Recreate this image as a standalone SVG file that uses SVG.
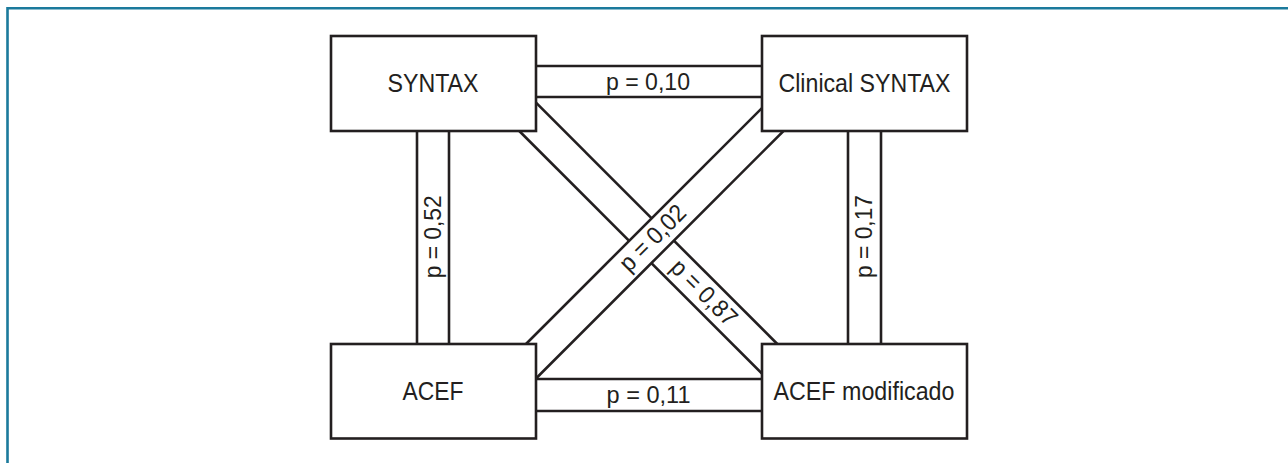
<svg xmlns="http://www.w3.org/2000/svg" width="1288" height="463" viewBox="0 0 1288 463">
  <style>
    .frame { stroke: #1b7a9c; stroke-width: 2.6; fill: none; }
    .box { fill: #ffffff; stroke: #231f20; stroke-width: 2.6; }
    .edge { stroke: #231f20; stroke-width: 2.6; fill: none; }
    .band { fill: #ffffff; stroke: none; }
    .lbl { font-family: "Liberation Sans", Arial, sans-serif; font-size: 26px; fill: #231f20; }
    .pl { font-family: "Liberation Sans", Arial, sans-serif; font-size: 24.5px; fill: #231f20; }
  </style>
  <rect x="0" y="0" width="1288" height="463" fill="#ffffff"/>
  <path class="frame" d="M7.5,463 V8.3 H1288"/>

  <g id="connectors">
    <!-- SYNTAX - Clinical SYNTAX -->
    <g id="e-syntax-clinical">
      <line class="edge" x1="530" y1="66" x2="770" y2="66"/>
      <line class="edge" x1="530" y1="97" x2="770" y2="97"/>
      <text class="pl" x="606" y="90.3" textLength="84" lengthAdjust="spacingAndGlyphs">p = 0,10</text>
    </g>
    <!-- ACEF - ACEF modificado -->
    <g id="e-acef-acefmod">
      <line class="edge" x1="530" y1="379" x2="770" y2="379"/>
      <line class="edge" x1="530" y1="411" x2="770" y2="411"/>
      <text class="pl" x="606.5" y="403.3" textLength="84" lengthAdjust="spacingAndGlyphs">p = 0,11</text>
    </g>
    <!-- SYNTAX - ACEF -->
    <g id="e-syntax-acef">
      <line class="edge" x1="417" y1="125" x2="417" y2="350"/>
      <line class="edge" x1="449" y1="125" x2="449" y2="350"/>
      <text class="pl" transform="translate(441,278.3) rotate(-90)" x="0" y="0" textLength="83" lengthAdjust="spacingAndGlyphs">p = 0,52</text>
    </g>
    <!-- Clinical SYNTAX - ACEF modificado -->
    <g id="e-clinical-acefmod">
      <line class="edge" x1="848" y1="125" x2="848" y2="350"/>
      <line class="edge" x1="881" y1="125" x2="881" y2="350"/>
      <text class="pl" transform="translate(871.5,278) rotate(-90)" x="0" y="0" textLength="83" lengthAdjust="spacingAndGlyphs">p = 0,17</text>
    </g>
    <!-- SYNTAX - ACEF modificado (0,87) -->
    <g id="e-syntax-acefmod">
      <polygon class="band" points="526,92.7 787.3,354 752,363.7 509.3,121"/>
      <line class="edge" x1="526" y1="92.7" x2="787.3" y2="354"/>
      <line class="edge" x1="509.3" y1="121" x2="772" y2="383.7"/>
      <text class="pl" transform="translate(669,269) rotate(45)" x="0" y="0" textLength="83" lengthAdjust="spacingAndGlyphs">p = 0,87</text>
    </g>
    <!-- Clinical SYNTAX - ACEF (0,02) -->
    <g id="e-clinical-acef">
      <polygon class="band" points="772,98 793.5,121 526,388.5 516,354"/>
      <line class="edge" x1="772" y1="98" x2="516" y2="354"/>
      <line class="edge" x1="793.5" y1="121" x2="526" y2="388.5"/>
      <text class="pl" transform="translate(629,273) rotate(-45)" x="0" y="0" textLength="83" lengthAdjust="spacingAndGlyphs">p = 0,02</text>
    </g>
  </g>

  <g id="node-syntax">
    <rect class="box" x="331" y="36" width="205" height="95"/>
    <text class="lbl" x="387.5" y="91.7" textLength="91" lengthAdjust="spacingAndGlyphs">SYNTAX</text>
  </g>
  <g id="node-clinical-syntax">
    <rect class="box" x="762" y="36" width="205" height="95"/>
    <text class="lbl" x="778.5" y="91.7" textLength="172" lengthAdjust="spacingAndGlyphs">Clinical SYNTAX</text>
  </g>
  <g id="node-acef">
    <rect class="box" x="331" y="344" width="205" height="94.5"/>
    <text class="lbl" x="402.5" y="400" textLength="61" lengthAdjust="spacingAndGlyphs">ACEF</text>
  </g>
  <g id="node-acef-modificado">
    <rect class="box" x="762" y="344" width="205" height="94.5"/>
    <text class="lbl" x="773.5" y="400" textLength="181" lengthAdjust="spacingAndGlyphs">ACEF modificado</text>
  </g>
</svg>
